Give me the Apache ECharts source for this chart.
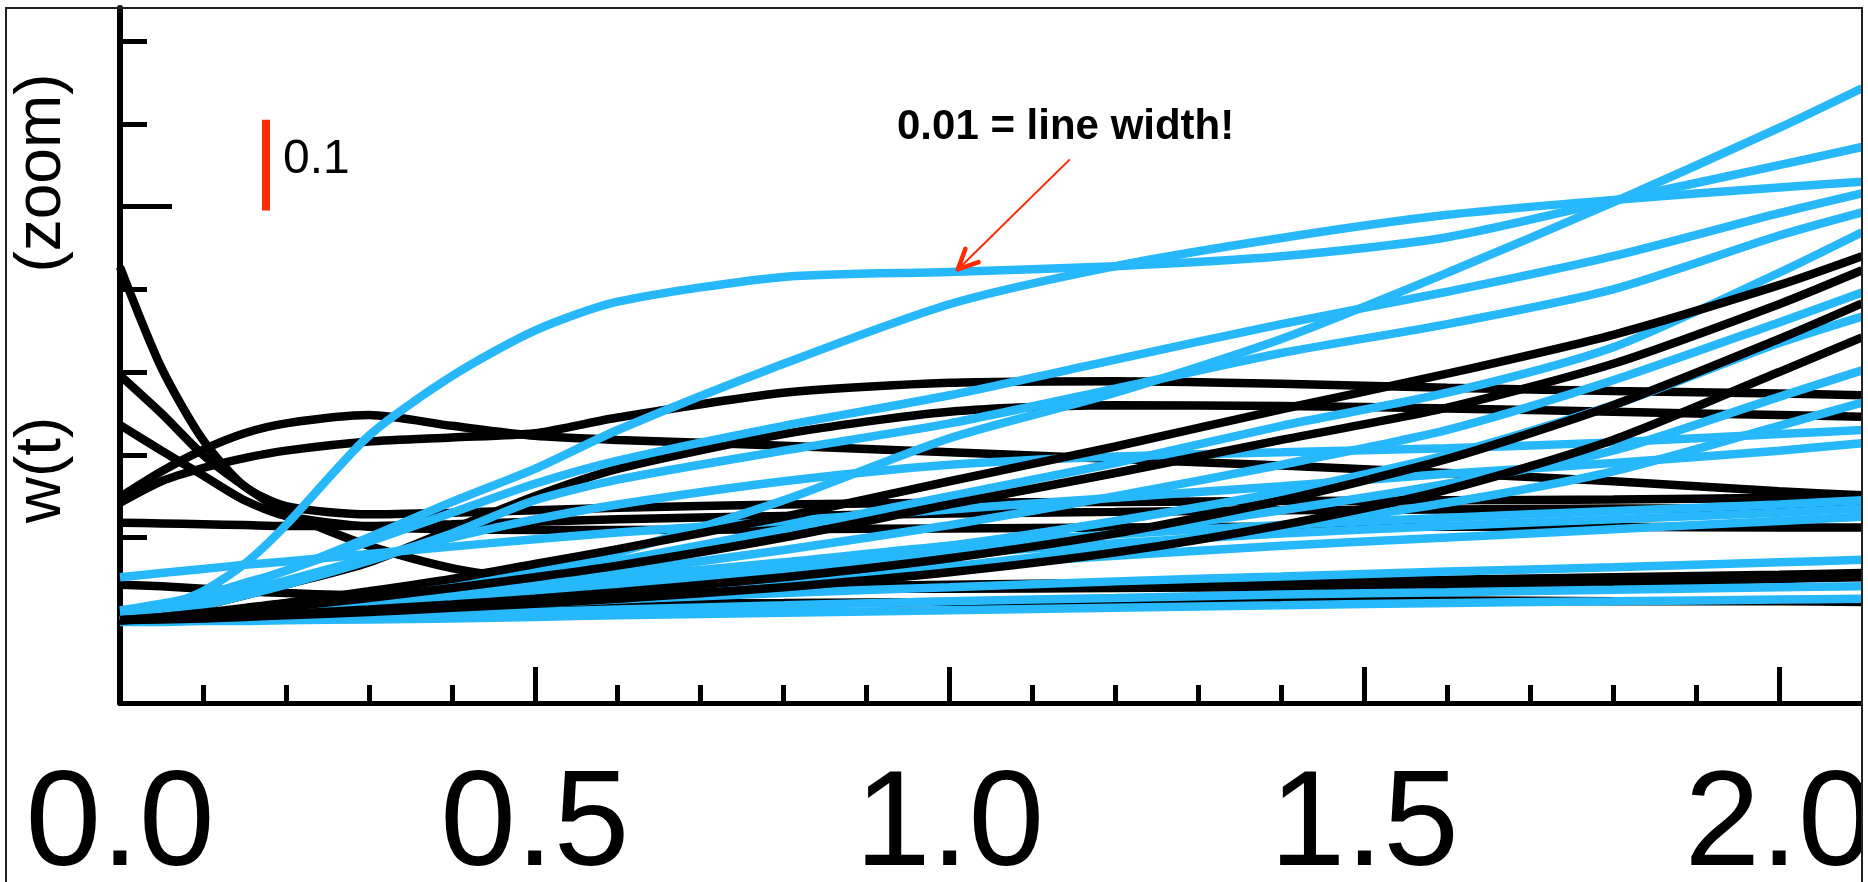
<!DOCTYPE html>
<html>
<head>
<meta charset="utf-8">
<title>w(t) zoom</title>
<script src="https://cdn.jsdelivr.net/npm/echarts@6/dist/echarts.min.js"></script>
<style>
  html, body { margin: 0; padding: 0; background: #ffffff; overflow: hidden; }
  #chart { width: 1868px; height: 882px; }
</style>
</head>
<body>
<div id="chart"></div>
<script>
// sample times shared by every trajectory
const tGrid = [0, 0.05, 0.1, 0.15, 0.2, 0.3, 0.4, 0.5, 0.6, 0.8, 1.0, 1.2, 1.4, 1.6, 1.8, 2.0, 2.1];

// black trajectories w(t)
const blackDecayA  = [0.527, 0.405, 0.318, 0.262, 0.238, 0.228, 0.230, 0.233, 0.236, 0.240, 0.242, 0.243, 0.244, 0.245, 0.246, 0.248, 0.250];
const blackDecayB  = [0.396, 0.350, 0.300, 0.262, 0.230, 0.190, 0.163, 0.149, 0.142, 0.138, 0.138, 0.139, 0.140, 0.142, 0.145, 0.150, 0.152];
const blackDecayC  = [0.336, 0.305, 0.275, 0.245, 0.226, 0.213, 0.210, 0.209, 0.209, 0.210, 0.211, 0.212, 0.213, 0.213, 0.213, 0.212, 0.212];
const blackHump    = [0.249, 0.280, 0.306, 0.326, 0.338, 0.348, 0.335, 0.323, 0.318, 0.311, 0.303, 0.295, 0.287, 0.278, 0.268, 0.256, 0.251];
const blackPlateau = [0.242, 0.268, 0.284, 0.296, 0.305, 0.316, 0.321, 0.326, 0.345, 0.375, 0.387, 0.389, 0.386, 0.381, 0.377, 0.374, 0.372];
const blackFlatMid = [0.218, 0.217, 0.216, 0.215, 0.214, 0.214, 0.216, 0.219, 0.222, 0.226, 0.229, 0.231, 0.233, 0.234, 0.235, 0.235, 0.235];
const blackFlatLow = [0.143, 0.141, 0.138, 0.135, 0.133, 0.130, 0.130, 0.132, 0.135, 0.140, 0.143, 0.145, 0.147, 0.149, 0.152, 0.155, 0.157];
const blackFloor   = [0.100, 0.102, 0.104, 0.106, 0.108, 0.112, 0.115, 0.118, 0.120, 0.121, 0.122, 0.123, 0.124, 0.124, 0.123, 0.123, 0.122];
const blackRiseMid = [0.100, 0.108, 0.118, 0.130, 0.143, 0.170, 0.210, 0.250, 0.283, 0.325, 0.352, 0.360, 0.359, 0.356, 0.352, 0.348, 0.346];
const blackRiseA   = [0.100, 0.104, 0.109, 0.115, 0.121, 0.135, 0.150, 0.168, 0.186, 0.225, 0.268, 0.310, 0.355, 0.398, 0.445, 0.505, 0.540];
const blackRiseB   = [0.100, 0.103, 0.107, 0.111, 0.116, 0.127, 0.139, 0.152, 0.166, 0.200, 0.240, 0.278, 0.318, 0.357, 0.410, 0.482, 0.523];
const blackRiseC   = [0.100, 0.102, 0.104, 0.106, 0.108, 0.113, 0.119, 0.126, 0.134, 0.152, 0.175, 0.205, 0.245, 0.295, 0.360, 0.440, 0.483];
const blackRiseD   = [0.100, 0.101, 0.102, 0.104, 0.106, 0.110, 0.115, 0.120, 0.126, 0.140, 0.158, 0.182, 0.215, 0.258, 0.318, 0.400, 0.442];

// blue trajectories w(t)
const blue01 = [0.110, 0.116, 0.135, 0.168, 0.215, 0.323, 0.395, 0.450, 0.485, 0.515, 0.521, 0.528, 0.540, 0.563, 0.607, 0.650, 0.672];
const blue02 = [0.112, 0.120, 0.130, 0.145, 0.160, 0.200, 0.243, 0.283, 0.330, 0.410, 0.482, 0.528, 0.562, 0.590, 0.608, 0.623, 0.630];
const blue03 = [0.100, 0.104, 0.108, 0.113, 0.118, 0.130, 0.145, 0.162, 0.182, 0.245, 0.320, 0.375, 0.440, 0.520, 0.605, 0.695, 0.743];
const blue04 = [0.100, 0.112, 0.127, 0.143, 0.160, 0.195, 0.230, 0.265, 0.293, 0.335, 0.372, 0.415, 0.458, 0.497, 0.540, 0.592, 0.616];
const blue05 = [0.100, 0.108, 0.118, 0.130, 0.143, 0.172, 0.205, 0.245, 0.270, 0.305, 0.338, 0.380, 0.423, 0.458, 0.500, 0.565, 0.593];
const blue06 = [0.100, 0.103, 0.107, 0.111, 0.116, 0.127, 0.140, 0.155, 0.172, 0.210, 0.250, 0.290, 0.335, 0.375, 0.430, 0.520, 0.569];
const blue07 = [0.100, 0.103, 0.106, 0.110, 0.114, 0.123, 0.133, 0.145, 0.158, 0.185, 0.215, 0.250, 0.288, 0.330, 0.390, 0.460, 0.496];
const blue08 = [0.100, 0.102, 0.105, 0.108, 0.111, 0.118, 0.126, 0.135, 0.145, 0.167, 0.190, 0.220, 0.255, 0.300, 0.360, 0.435, 0.467];
const blue09 = [0.100, 0.110, 0.122, 0.135, 0.148, 0.175, 0.200, 0.222, 0.240, 0.268, 0.288, 0.298, 0.303, 0.308, 0.315, 0.325, 0.330];
const blue10 = [0.100, 0.102, 0.105, 0.108, 0.111, 0.117, 0.124, 0.131, 0.140, 0.158, 0.180, 0.205, 0.233, 0.265, 0.305, 0.370, 0.402];
const blue11 = [0.100, 0.102, 0.104, 0.107, 0.110, 0.116, 0.122, 0.129, 0.137, 0.150, 0.165, 0.188, 0.213, 0.242, 0.280, 0.335, 0.363];
const blue12 = [0.152, 0.157, 0.162, 0.167, 0.171, 0.180, 0.189, 0.198, 0.206, 0.220, 0.234, 0.248, 0.262, 0.277, 0.290, 0.305, 0.314];
const blue13 = [0.100, 0.104, 0.108, 0.112, 0.116, 0.125, 0.134, 0.143, 0.152, 0.170, 0.190, 0.204, 0.215, 0.224, 0.232, 0.240, 0.245];
const blue14 = [0.100, 0.103, 0.106, 0.110, 0.113, 0.120, 0.128, 0.136, 0.145, 0.162, 0.180, 0.193, 0.205, 0.214, 0.222, 0.230, 0.235];
const blue15 = [0.100, 0.102, 0.104, 0.107, 0.110, 0.116, 0.122, 0.129, 0.136, 0.150, 0.165, 0.178, 0.190, 0.200, 0.210, 0.220, 0.225];
const blue16 = [0.100, 0.101, 0.103, 0.105, 0.107, 0.111, 0.115, 0.120, 0.125, 0.133, 0.140, 0.147, 0.153, 0.159, 0.164, 0.170, 0.173];
const blue17 = [0.100, 0.100, 0.101, 0.102, 0.103, 0.105, 0.107, 0.110, 0.113, 0.118, 0.123, 0.127, 0.131, 0.134, 0.137, 0.140, 0.141];
const blue18 = [0.098, 0.098, 0.099, 0.099, 0.100, 0.101, 0.102, 0.104, 0.106, 0.109, 0.112, 0.115, 0.118, 0.121, 0.123, 0.125, 0.126];

// axis ticks
const xMajorTicks = [0, 0.5, 1.0, 1.5, 2.0];
const xMinorTicks = [0.1, 0.2, 0.3, 0.4, 0.6, 0.7, 0.8, 0.9, 1.1, 1.2, 1.3, 1.4, 1.6, 1.7, 1.8, 1.9];
const yShortTicks = [0.1, 0.2, 0.3, 0.4, 0.5, 0.6, 0.7, 0.8];
const yLongTicks = [0.6];

// scale bar of height 0.1 and the annotation arrow
const scaleBarT = 0.176;
const scaleBarW = [0.6, 0.7];
const scaleBarText = '0.1';
const noteText = '0.01 = line width!';
const arrowTip = [1.01, 0.524];
const arrowTail = [1.145, 0.657];

const FONT = "'Liberation Sans', Arial, Helvetica, sans-serif";
const BLUE = '#26B8FB';
const RED = '#FF2A00';

const lowerBlack = [blackDecayA, blackDecayB, blackDecayC, blackHump, blackPlateau, blackFlatMid, blackFlatLow, blackFloor, blackRiseMid];
const blueSet = [blue18, blue17, blue16, blue15, blue14, blue13, blue12, blue11, blue10, blue09, blue08, blue07, blue06, blue05, blue04, blue03, blue02, blue01];
const upperBlack = [blackRiseD, blackRiseC, blackRiseB, blackRiseA];

function curve(ys, color) {
  return {
    type: 'line',
    data: tGrid.map((t, i) => [t, ys[i]]),
    showSymbol: false,
    symbol: 'none',
    smooth: 0.25,
    silent: true,
    clip: true,
    lineStyle: { color: color, width: 8.5 },
    emphasis: { disabled: true }
  };
}

const series = [];
lowerBlack.forEach(ys => series.push(curve(ys, '#000000')));
blueSet.forEach(ys => series.push(curve(ys, BLUE)));
upperBlack.forEach(ys => series.push(curve(ys, '#000000')));
series.push({
  type: 'line',
  data: scaleBarW.map(w => [scaleBarT, w]),
  showSymbol: false,
  symbol: 'none',
  silent: true,
  lineStyle: { color: RED, width: 8, cap: 'square' }
});

const chart = echarts.init(document.getElementById('chart'), null, { renderer: 'canvas' });

chart.setOption({
  animation: false,
  backgroundColor: '#ffffff',
  grid: { left: 120, right: 6, top: 8, bottom: 179, containLabel: false, outerBoundsMode: 'none' },
  xAxis: [
    {
      type: 'value', min: 0, max: 2.1, position: 'bottom',
      axisLine: { show: true, onZero: false, lineStyle: { color: '#000', width: 5 } },
      axisTick: { show: true, inside: true, length: 36, customValues: xMajorTicks, lineStyle: { color: '#000', width: 5 } },
      axisLabel: {
        show: true, customValues: xMajorTicks, formatter: v => Number(v).toFixed(1),
        fontSize: 136, fontFamily: FONT, color: '#000', margin: 56
      },
      splitLine: { show: false }
    },
    {
      type: 'value', min: 0, max: 2.1, position: 'bottom',
      axisLine: { show: false, onZero: false },
      axisTick: { show: true, inside: true, length: 18, customValues: xMinorTicks, lineStyle: { color: '#000', width: 5 } },
      axisLabel: { show: false },
      splitLine: { show: false }
    }
  ],
  yAxis: [
    {
      type: 'value', min: 0, max: 0.84, position: 'left',
      axisLine: { show: true, onZero: false, lineStyle: { color: '#000', width: 6 } },
      axisTick: { show: true, inside: true, length: 27, customValues: yShortTicks, lineStyle: { color: '#000', width: 5 } },
      axisLabel: { show: false },
      splitLine: { show: false }
    },
    {
      type: 'value', min: 0, max: 0.84, position: 'left',
      axisLine: { show: false, onZero: false },
      axisTick: { show: true, inside: true, length: 52, customValues: yLongTicks, lineStyle: { color: '#000', width: 5 } },
      axisLabel: { show: false },
      splitLine: { show: false }
    }
  ],
  series: series
});

// annotations placed through the axis scales
const barMid = chart.convertToPixel({ gridIndex: 0 }, [scaleBarT, (scaleBarW[0] + scaleBarW[1]) / 2]);
const tip = chart.convertToPixel({ gridIndex: 0 }, arrowTip);
const tail = chart.convertToPixel({ gridIndex: 0 }, arrowTail);
const ang = Math.atan2(tail[1] - tip[1], tail[0] - tip[0]);
const headLen = 22, headSpread = 0.44;
const prongA = [tip[0] + headLen * Math.cos(ang - headSpread), tip[1] + headLen * Math.sin(ang - headSpread)];
const prongB = [tip[0] + headLen * Math.cos(ang + headSpread), tip[1] + headLen * Math.sin(ang + headSpread)];

chart.setOption({
  graphic: [
    {
      type: 'rect', silent: true, z: 100,
      shape: { x: 1863, y: 0, width: 5, height: 882 },
      style: { fill: '#ffffff' }
    },
    {
      type: 'rect', silent: true, z: 101,
      shape: { x: 6, y: 8, width: 1856, height: 1000 },
      style: { fill: 'none', stroke: '#222', lineWidth: 2 }
    },
    {
      type: 'text', silent: true, x: 42, y: 470, rotation: Math.PI / 2,
      style: { text: 'w(t)', fontSize: 64, fontFamily: FONT, fill: '#000', align: 'center', verticalAlign: 'middle' }
    },
    {
      type: 'text', silent: true, x: 42, y: 173, rotation: Math.PI / 2,
      style: { text: '(zoom)', fontSize: 64, fontFamily: FONT, fill: '#000', align: 'center', verticalAlign: 'middle' }
    },
    {
      type: 'text', silent: true, x: barMid[0] + 17, y: barMid[1] - 5,
      style: { text: scaleBarText, fontSize: 48, fontFamily: FONT, fill: '#000', align: 'left', verticalAlign: 'middle' }
    },
    {
      type: 'text', silent: true, x: 897, y: 127,
      style: { text: noteText, fontSize: 42, fontWeight: 'bold', fontFamily: FONT, fill: '#000', align: 'left', verticalAlign: 'middle' }
    },
    {
      type: 'line', silent: true, z: 50,
      shape: { x1: tail[0], y1: tail[1], x2: tip[0], y2: tip[1] },
      style: { stroke: RED, lineWidth: 2 }
    },
    {
      type: 'polyline', silent: true, z: 50,
      shape: { points: [prongA, tip, prongB] },
      style: { stroke: RED, lineWidth: 4.5, fill: 'none', lineCap: 'round', lineJoin: 'round' }
    }
  ]
});
</script>
</body>
</html>
